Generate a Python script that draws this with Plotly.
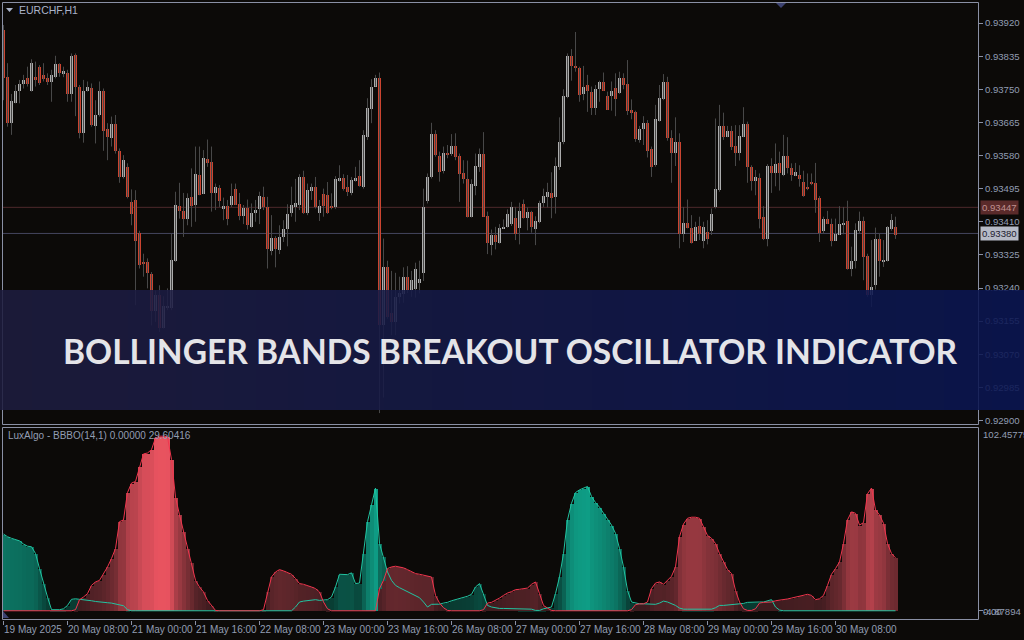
import plotly.graph_objects as go

# ---------------- data ----------------
time_labels = ["19 May 2025", "20 May 08:00", "21 May 00:00", "21 May 16:00", "22 May 08:00",
               "23 May 00:00", "23 May 16:00", "26 May 08:00", "27 May 00:00", "27 May 16:00",
               "28 May 08:00", "29 May 00:00", "29 May 16:00", "30 May 08:00"]
time_tick_index = [0, 16, 32, 48, 64, 80, 96, 112, 128, 144, 160, 176, 192, 208]

price_ticks = [0.93920, 0.93835, 0.93750, 0.93665, 0.93580, 0.93495, 0.93410,
               0.93325, 0.93240, 0.93155, 0.93070, 0.92985, 0.92900]
ask_level = 0.93447
bid_level = 0.93380

open_ = [0.93904,0.93784,0.93664,0.93717,0.93746,0.93764,0.93779,0.93748,0.93784,0.93808,
         0.93787,0.93779,0.93769,0.93784,0.93815,0.93793,0.93794,0.93738,0.93839,0.93758,
         0.93640,0.93748,0.93755,0.93658,0.93685,0.93748,0.93649,0.93625,0.93661,0.93594,
         0.93527,0.93553,0.93462,0.93466,0.93383,0.93306,0.93308,0.93277,0.93183,0.93224,
         0.93138,0.93191,0.93191,0.93311,0.93452,0.93440,0.93419,0.93476,0.93455,0.93532,
         0.93483,0.93573,0.93565,0.93484,0.93498,0.93443,0.93452,0.93455,0.93495,0.93457,
         0.93427,0.93447,0.93399,0.93433,0.93443,0.93476,0.93450,0.93337,0.93370,0.93340,
         0.93371,0.93392,0.93433,0.93450,0.93455,0.93525,0.93433,0.93490,0.93501,0.93433,
         0.93483,0.93481,0.93453,0.93448,0.93517,0.93524,0.93501,0.93486,0.93515,0.93529,
         0.93501,0.93630,0.93700,0.93758,0.93779,0.93147,0.93294,0.93176,0.93153,0.93217,
         0.93227,0.93269,0.93236,0.93239,0.93253,0.93281,0.93464,0.93525,0.93637,0.93581,
         0.93541,0.93589,0.93584,0.93607,0.93579,0.93537,0.93522,0.93424,0.93504,0.93551,
         0.93585,0.93426,0.93352,0.93378,0.93358,0.93394,0.93397,0.93406,0.93421,0.93395,
         0.93457,0.93421,0.93436,0.93394,0.93411,0.93460,0.93476,0.93486,0.93474,0.93553,
         0.93615,0.93731,0.93837,0.93810,0.93805,0.93738,0.93761,0.93745,0.93702,0.93751,
         0.93769,0.93733,0.93733,0.93755,0.93743,0.93781,0.93764,0.93697,0.93692,0.93620,
         0.93649,0.93666,0.93599,0.93558,0.93671,0.93726,0.93769,0.93627,0.93587,0.93615,
         0.93380,0.93409,0.93395,0.93363,0.93400,0.93363,0.93385,0.93388,0.93448,0.93493,
         0.93656,0.93630,0.93645,0.93606,0.93587,0.93630,0.93663,0.93553,0.93517,0.93524,
         0.93423,0.93368,0.93555,0.93537,0.93561,0.93532,0.93581,0.93549,0.93529,0.93532,
         0.93513,0.93501,0.93514,0.93512,0.93471,0.93387,0.93419,0.93406,0.93363,0.93378,
         0.93404,0.93412,0.93291,0.93311,0.93388,0.93412,0.93324,0.93224,0.93250,0.93367,
         0.93310,0.93310,0.93392,0.93399]
high = [0.93915,0.93817,0.93738,0.93761,0.93774,0.93787,0.93808,0.93827,0.93821,0.93812,
        0.93817,0.93791,0.93800,0.93836,0.93817,0.93808,0.93800,0.93842,0.93842,0.93761,
        0.93774,0.93770,0.93765,0.93722,0.93770,0.93752,0.93663,0.93680,0.93684,0.93598,
        0.93581,0.93560,0.93493,0.93491,0.93387,0.93328,0.93316,0.93281,0.93234,0.93247,
        0.93219,0.93239,0.93380,0.93487,0.93510,0.93484,0.93483,0.93547,0.93603,0.93603,
        0.93594,0.93621,0.93603,0.93508,0.93504,0.93472,0.93466,0.93508,0.93508,0.93484,
        0.93453,0.93467,0.93457,0.93466,0.93487,0.93500,0.93474,0.93427,0.93373,0.93401,
        0.93414,0.93455,0.93500,0.93520,0.93532,0.93541,0.93508,0.93508,0.93525,0.93466,
        0.93495,0.93512,0.93483,0.93527,0.93555,0.93532,0.93530,0.93525,0.93551,0.93568,
        0.93645,0.93727,0.93776,0.93787,0.93793,0.93367,0.93310,0.93284,0.93279,0.93269,
        0.93293,0.93296,0.93284,0.93305,0.93310,0.93495,0.93534,0.93664,0.93645,0.93590,
        0.93603,0.93607,0.93635,0.93637,0.93585,0.93568,0.93567,0.93519,0.93585,0.93598,
        0.93640,0.93436,0.93390,0.93397,0.93404,0.93416,0.93442,0.93461,0.93448,0.93459,
        0.93467,0.93447,0.93438,0.93424,0.93464,0.93495,0.93510,0.93537,0.93575,0.93678,
        0.93750,0.93842,0.93853,0.93897,0.93808,0.93810,0.93787,0.93757,0.93761,0.93772,
        0.93793,0.93744,0.93770,0.93791,0.93795,0.93791,0.93825,0.93724,0.93695,0.93656,
        0.93681,0.93671,0.93603,0.93710,0.93761,0.93789,0.93782,0.93645,0.93678,0.93637,
        0.93448,0.93467,0.93427,0.93410,0.93423,0.93410,0.93414,0.93444,0.93675,0.93710,
        0.93690,0.93656,0.93656,0.93658,0.93658,0.93704,0.93667,0.93555,0.93543,0.93534,
        0.93450,0.93558,0.93573,0.93611,0.93590,0.93633,0.93627,0.93560,0.93561,0.93555,
        0.93541,0.93534,0.93534,0.93561,0.93476,0.93423,0.93438,0.93418,0.93418,0.93450,
        0.93448,0.93464,0.93346,0.93406,0.93436,0.93423,0.93328,0.93363,0.93395,0.93380,
        0.93363,0.93399,0.93430,0.93423]
low = [0.93722,0.93654,0.93633,0.93714,0.93714,0.93752,0.93757,0.93744,0.93757,0.93761,
       0.93770,0.93761,0.93718,0.93778,0.93782,0.93781,0.93718,0.93718,0.93681,0.93624,
       0.93613,0.93744,0.93654,0.93611,0.93680,0.93592,0.93568,0.93603,0.93585,0.93510,
       0.93521,0.93470,0.93401,0.93196,0.93290,0.93269,0.93239,0.93144,0.93153,0.93127,
       0.93136,0.93183,0.93183,0.93307,0.93418,0.93371,0.93401,0.93397,0.93410,0.93478,
       0.93481,0.93551,0.93436,0.93440,0.93448,0.93414,0.93401,0.93448,0.93453,0.93414,
       0.93404,0.93390,0.93395,0.93410,0.93404,0.93440,0.93290,0.93324,0.93293,0.93327,
       0.93358,0.93347,0.93423,0.93410,0.93440,0.93430,0.93427,0.93466,0.93444,0.93412,
       0.93423,0.93430,0.93442,0.93443,0.93513,0.93490,0.93476,0.93478,0.93513,0.93500,
       0.93495,0.93620,0.93663,0.93757,0.92919,0.92959,0.93161,0.93119,0.93119,0.93200,
       0.93202,0.93227,0.93217,0.93215,0.93226,0.93258,0.93457,0.93521,0.93577,0.93513,
       0.93534,0.93573,0.93579,0.93568,0.93461,0.93508,0.93421,0.93421,0.93478,0.93538,
       0.93423,0.93327,0.93324,0.93339,0.93354,0.93392,0.93395,0.93399,0.93363,0.93352,
       0.93418,0.93388,0.93382,0.93350,0.93406,0.93448,0.93447,0.93419,0.93431,0.93543,
       0.93609,0.93727,0.93772,0.93795,0.93718,0.93722,0.93692,0.93684,0.93684,0.93718,
       0.93746,0.93697,0.93695,0.93681,0.93738,0.93750,0.93684,0.93673,0.93615,0.93613,
       0.93607,0.93575,0.93525,0.93551,0.93667,0.93722,0.93618,0.93510,0.93553,0.93342,
       0.93358,0.93393,0.93354,0.93361,0.93363,0.93342,0.93352,0.93376,0.93444,0.93487,
       0.93620,0.93627,0.93594,0.93553,0.93567,0.93627,0.93510,0.93490,0.93478,0.93393,
       0.93363,0.93347,0.93484,0.93501,0.93490,0.93527,0.93534,0.93515,0.93527,0.93500,
       0.93474,0.93491,0.93504,0.93433,0.93358,0.93380,0.93404,0.93347,0.93361,0.93376,
       0.93378,0.93287,0.93270,0.93290,0.93380,0.93260,0.93217,0.93191,0.93236,0.93269,
       0.93294,0.93308,0.93387,0.93366]
close = [0.93781,0.93664,0.93722,0.93748,0.93764,0.93776,0.93765,0.93820,0.93776,0.93767,
         0.93777,0.93769,0.93787,0.93815,0.93794,0.93797,0.93738,0.93836,0.93757,0.93640,
         0.93748,0.93758,0.93659,0.93686,0.93748,0.93644,0.93628,0.93661,0.93592,0.93527,
         0.93570,0.93474,0.93430,0.93363,0.93301,0.93305,0.93279,0.93183,0.93224,0.93138,
         0.93195,0.93196,0.93313,0.93455,0.93440,0.93419,0.93472,0.93452,0.93534,0.93481,
         0.93575,0.93563,0.93484,0.93501,0.93464,0.93452,0.93419,0.93478,0.93455,0.93427,
         0.93447,0.93402,0.93435,0.93442,0.93478,0.93450,0.93342,0.93370,0.93342,0.93373,
         0.93394,0.93431,0.93455,0.93459,0.93525,0.93433,0.93493,0.93501,0.93450,0.93452,
         0.93452,0.93433,0.93447,0.93520,0.93524,0.93496,0.93487,0.93519,0.93524,0.93503,
         0.93633,0.93704,0.93758,0.93779,0.93147,0.93294,0.93168,0.93153,0.93217,0.93229,
         0.93269,0.93236,0.93263,0.93291,0.93265,0.93448,0.93527,0.93637,0.93582,0.93538,
         0.93589,0.93582,0.93607,0.93577,0.93534,0.93522,0.93424,0.93508,0.93555,0.93585,
         0.93424,0.93356,0.93378,0.93359,0.93395,0.93399,0.93430,0.93450,0.93380,0.93440,
         0.93421,0.93436,0.93397,0.93414,0.93460,0.93478,0.93488,0.93471,0.93555,0.93616,
         0.93734,0.93837,0.93810,0.93807,0.93736,0.93758,0.93746,0.93702,0.93753,0.93769,
         0.93748,0.93698,0.93746,0.93726,0.93781,0.93761,0.93695,0.93690,0.93623,0.93650,
         0.93666,0.93594,0.93553,0.93675,0.93728,0.93769,0.93625,0.93587,0.93615,0.93380,
         0.93409,0.93395,0.93356,0.93399,0.93380,0.93399,0.93368,0.93431,0.93496,0.93656,
         0.93630,0.93645,0.93604,0.93587,0.93632,0.93663,0.93551,0.93517,0.93527,0.93418,
         0.93368,0.93555,0.93537,0.93560,0.93536,0.93581,0.93549,0.93531,0.93539,0.93522,
         0.93478,0.93495,0.93510,0.93466,0.93383,0.93419,0.93406,0.93361,0.93380,0.93406,
         0.93409,0.93291,0.93311,0.93390,0.93412,0.93320,0.93224,0.93245,0.93367,0.93310,
         0.93312,0.93397,0.93416,0.93378]

# BBBO oscillator (bullish / bearish)
bull = [42.9,41.4,40.5,39.9,39.1,37.3,36.1,35.8,32.0,23.6,15.2,7.7,
        0.6,0.5,0.6,1.1,
        3.0,6.4,6.7,6.4,6.2,6.2,5.6,5.2,5.1,4.9,4.5,4.3,3.7,3.4,2.8,0.6,
        0,0,0,0,0,0,0,0,0,0,0,0,0,0,0,0,0,0,0,0,0,0,0,0,0,0,0,0,0,0,0,0,0,0,0,0,0,0,0,0,0,
        2.1,4.9,5.4,5.8,6.2,6.2,5.8,5.8,6.2,7.7,13.3,
        20.4,20.4,20.2,21.2,15.2,15.5,32.0,49.8,59.2,68.6,
        37.6,30.2,21.7,17.0,14.2,12.9,11.8,10.7,9.6,8.4,7.3,4.9,2.1,
        3.6,3.6,3.7,4.3,4.7,5.6,6.2,6.7,7.3,8.1,9.2,13.3,15.2,
        9.6,3.0,2.1,1.5,1.3,1.3,1.3,1.3,1.3,1.1,1.1,0.9,0.9,0.2,0.2,1.1,1.7,2.1,
        9.6,18.9,32.0,50.8,60.1,66.1,67.6,68.6,69.5,63.9,60.5,57.9,54.5,51.1,47.9,43.3,34.8,24.5,11.4,
        4.9,4.3,3.9,3.9,3.7,3.6,3.6,4.3,5.4,4.9,3.9,3.0,
        1.5,0.9,0.9,0.9,0.9,0.9,0.9,0.9,0.9,
        1.7,3.0,3.0,3.2,3.4,3.9,3.9,4.1,4.7,4.9,4.9,4.9,4.9,5.6,6.2,2.1,0.4,
        0,0,0,0,0,0,0,0,0,0,0,0,0,0,0,0,0,0,0,0,0,0,0,0,0,0,0,0,0]
bear = [0,0,0,0,0,0,0,0,0,0,0,0,0,0,0,0,0,0,
        0.6,6.2,7.7,9.6,14.2,16.1,17.0,20.4,24.5,29.2,34.8,49.8,50.8,66.1,71.4,72.3,80.7,87.7,
        88.2,90.1,96.6,97.6,97.6,97.2,84.5,63.5,53.6,44.2,34.8,26.8,17.0,13.3,10.5,5.8,3.0,0.2,
        0,0,0,0,0,0,0,0,0,0,0,
        0.6,10.5,18.9,21.7,23.0,22.3,21.2,20.4,18.0,15.2,14.8,14.2,13.3,12.4,10.5,4.9,1.1,0,0,
        0,0,0,0,0,0,0,0,0,0,
        12.4,17.0,23.6,24.5,24.9,24.5,24.0,23.0,21.7,20.8,20.4,20.0,19.7,18.9,8.6,4.3,1.7,0.2,
        0,0,0,0,0,0,0,0,
        0.6,4.3,4.7,5.8,7.1,8.6,9.9,10.7,11.8,12.0,12.2,12.7,14.8,16.1,9.6,3.0,1.5,0.2,
        0,0,0,0,0,0,0,0,0,0,0,0,0,0,0,0,0,0,0,
        0.6,3.4,3.9,3.9,4.9,12.4,15.5,16.1,14.8,17.0,19.3,24.5,
        41.4,48.5,51.7,52.3,52.3,51.7,47.0,42.1,40.5,37.6,32.0,27.3,23.0,20.8,11.4,4.9,1.1,0.2,
        0.2,1.1,4.3,4.7,4.7,4.9,5.6,5.8,6.2,6.6,7.1,7.7,8.4,8.8,9.2,8.6,6.2,6.7,8.6,14.2,
        20.4,23.6,27.3,37.6,50.8,55.3,54.5,47.9,49.3,65.4,68.6,56.4,53.6,48.9,37.6,32.0,29.6]
osc_top = 102.45775
osc_bottom = -4.87894

# ---------------- styling helpers ----------------
W, H = 1024, 640
BG = '#0c0a08'
FRAME = '#8a90a4'
TXT = '#929db3'
FONT = 'Liberation Sans'


def fx(p):
    return p / W


def fy(p):
    return 1 - p / H


def mix(c0, c1, t):
    t = max(0.0, min(1.0, t))
    return 'rgb(%d,%d,%d)' % tuple(round(a + (b - a) * t) for a, b in zip(c0, c1))


n = len(open_)
idx = list(range(n))
x_range = [-0.375, 243.625]
x_dom = [fx(2), fx(978)]

fig = go.Figure()

# wicks
wx, wy = [], []
for i in idx:
    wx += [i, i, None]
    wy += [low[i], high[i], None]
fig.add_trace(go.Scatter(x=wx, y=wy, mode='lines', line=dict(color='#484848', width=1),
                         xaxis='x', yaxis='y', hoverinfo='skip', showlegend=False))

# bodies
body_base = [min(o, c) for o, c in zip(open_, close)]
body_h = [max(abs(c - o), 0.000028) for o, c in zip(open_, close)]
body_col = ['#acacac' if c >= o else '#cc4430' for o, c in zip(open_, close)]
fig.add_trace(go.Bar(x=idx, y=body_h, base=body_base, width=0.75,
                     marker=dict(color=body_col, line=dict(width=0)),
                     xaxis='x', yaxis='y', hoverinfo='skip', showlegend=False))

# oscillator fills
bull_col = [mix((8, 50, 42), (15, 165, 140), v / 75) for v in bull]
bear_col = [mix((55, 25, 28), (236, 84, 97), v / 100) for v in bear]
fig.add_trace(go.Bar(x=idx, y=bull, width=1.0, marker=dict(color=bull_col, line=dict(width=0)),
                     xaxis='x2', yaxis='y2', hoverinfo='skip', showlegend=False))
fig.add_trace(go.Bar(x=idx, y=bear, width=1.0, marker=dict(color=bear_col, line=dict(width=0)),
                     xaxis='x2', yaxis='y2', hoverinfo='skip', showlegend=False))
fig.add_trace(go.Scatter(x=idx, y=bull, mode='lines', line=dict(color='#22c4a1', width=1),
                         xaxis='x2', yaxis='y2', hoverinfo='skip', showlegend=False))
fig.add_trace(go.Scatter(x=idx, y=bear, mode='lines', line=dict(color='#f0364e', width=1),
                         xaxis='x2', yaxis='y2', hoverinfo='skip', showlegend=False))

shapes = []
# price level lines
shapes.append(dict(type='line', xref='paper', yref='y', x0=fx(2.5), x1=fx(978.5), y0=ask_level, y1=ask_level,
                   line=dict(color='#4e2a2c', width=1), layer='below'))
shapes.append(dict(type='line', xref='paper', yref='y', x0=fx(2.5), x1=fx(978.5), y0=bid_level, y1=bid_level,
                   line=dict(color='#45465e', width=1), layer='below'))
# frames
for (x0, y0, x1, y1) in [(2.5, 2.5, 978.5, 424.5), (2.5, 427.5, 978.5, 619.5)]:
    shapes.append(dict(type='rect', xref='paper', yref='paper', x0=fx(x0), x1=fx(x1), y0=fy(y1), y1=fy(y0),
                       line=dict(color=FRAME, width=1), fillcolor='rgba(0,0,0,0)', layer='above'))
# top shift marker
shapes.append(dict(type='path', xref='paper', yref='paper',
                   path='M %f %f L %f %f L %f %f Z' % (fx(776), fy(3), fx(786), fy(3), fx(781), fy(8)),
                   fillcolor='#3c4270', line=dict(width=0), layer='above'))
# symbol menu triangle
shapes.append(dict(type='path', xref='paper', yref='paper',
                   path='M %f %f L %f %f L %f %f Z' % (fx(6), fy(8), fx(13), fy(8), fx(9.5), fy(12)),
                   fillcolor='#aab3c8', line=dict(width=0), layer='above'))
# bottom-left indicator marker
shapes.append(dict(type='path', xref='paper', yref='paper',
                   path='M %f %f L %f %f L %f %f Z' % (fx(3), fy(611), fx(3), fy(618), fx(9), fy(618)),
                   fillcolor='#3c4270', line=dict(width=0), layer='above'))
# banner (horizontal gradient strips)
c_left, c_right = (30, 28, 63), (10, 22, 82)
nstrip = 64
for k in range(nstrip):
    t = (k + 0.5) / nstrip
    col = mix(c_left, c_right, t)
    shapes.append(dict(type='rect', xref='paper', yref='paper',
                       x0=k / nstrip, x1=(k + 1) / nstrip, y0=fy(410), y1=fy(290),
                       fillcolor=col, opacity=0.88, line=dict(width=0), layer='above'))

annotations = []
annotations.append(dict(text='EURCHF,H1', xref='paper', yref='paper', x=fx(17), y=fy(10.5),
                        xanchor='left', yanchor='middle', showarrow=False,
                        font=dict(family=FONT, size=10.5, color='#aab3c8')))
annotations.append(dict(text='LuxAlgo - BBBO(14,1) 0.00000 29.60416', xref='paper', yref='paper',
                        x=fx(6), y=fy(435.5), xanchor='left', yanchor='middle', showarrow=False,
                        font=dict(family=FONT, size=10, color=TXT)))
annotations.append(dict(text='%.5f' % osc_top, xref='paper', yref='paper', x=fx(981), y=fy(434.5),
                        xanchor='left', yanchor='middle', showarrow=False,
                        font=dict(family=FONT, size=9.6, color=TXT)))
annotations.append(dict(text='0.00', xref='paper', yref='paper', x=fx(981), y=fy(611),
                        xanchor='left', yanchor='middle', showarrow=False,
                        font=dict(family=FONT, size=9.6, color=TXT)))
annotations.append(dict(text='%.5f' % osc_bottom, xref='paper', yref='paper', x=fx(981), y=fy(611.5),
                        xanchor='left', yanchor='middle', showarrow=False,
                        font=dict(family=FONT, size=9.6, color=TXT)))
annotations.append(dict(text='%.5f' % ask_level, xref='paper', yref='y', x=fx(980), y=ask_level,
                        xanchor='left', yanchor='middle', showarrow=False, bgcolor='#5a2a2a',
                        borderpad=1, font=dict(family=FONT, size=9.6, color='#c09090')))
annotations.append(dict(text='%.5f' % bid_level, xref='paper', yref='y', x=fx(980), y=bid_level,
                        xanchor='left', yanchor='middle', showarrow=False, bgcolor='#b6bac6',
                        borderpad=1, font=dict(family=FONT, size=9.6, color='#1c2030')))
annotations.append(dict(text='BOLLINGER BANDS BREAKOUT OSCILLATOR INDICATOR', xref='paper', yref='paper',
                        x=fx(510.5), y=fy(351), xanchor='center', yanchor='middle', showarrow=False,
                        font=dict(family='Lato', size=33.5, color='#e4e4e8', weight='bold')))

fig.update_layout(
    width=W, height=H,
    margin=dict(l=0, r=0, t=0, b=0, pad=0, autoexpand=False),
    paper_bgcolor=BG, plot_bgcolor=BG,
    barmode='overlay', bargap=0,
    hovermode=False, showlegend=False,
    shapes=shapes, annotations=annotations,
    xaxis=dict(domain=x_dom, range=x_range, anchor='y', automargin=False,
               showticklabels=False, showgrid=False, zeroline=False, ticks=''),
    yaxis=dict(domain=[fy(424.5), fy(2.5)], range=[0.928897, 0.939727], anchor='x', side='right',
               automargin=False, tickvals=price_ticks, ticktext=['%.5f' % p for p in price_ticks],
               ticks='outside', ticklen=4, tickcolor=FRAME, showgrid=False, zeroline=False,
               tickfont=dict(family=FONT, size=9.6, color=TXT)),
    xaxis2=dict(domain=x_dom, range=x_range, anchor='y2', automargin=False,
                tickvals=time_tick_index, ticktext=time_labels, ticks='outside', ticklen=4,
                tickangle=0, tickcolor=FRAME, ticklabelposition='outside right',
                showgrid=False, zeroline=False,
                tickfont=dict(family=FONT, size=10, color=TXT)),
    yaxis2=dict(domain=[fy(619.5), fy(427.5)], range=[osc_bottom, osc_top], anchor='x2', side='right',
                automargin=False, tickvals=[0], ticktext=[''], ticks='outside', ticklen=4,
                tickcolor=FRAME, showgrid=False, zeroline=False),
)

fig.write_html('out.html', config={'displayModeBar': False},
               post_script="document.body.style.margin='0';document.body.style.overflow='hidden';")
